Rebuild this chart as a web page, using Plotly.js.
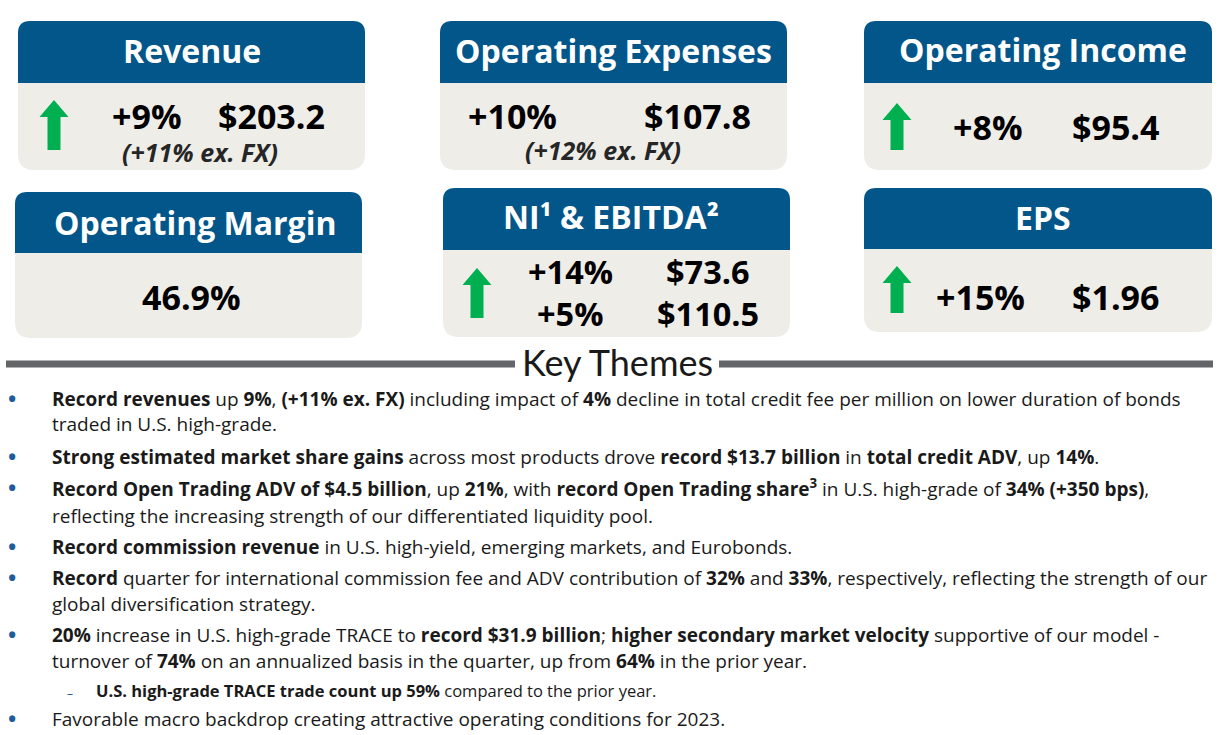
<!DOCTYPE html>
<html>
<head>
<meta charset="utf-8">
<script src="https://cdn.plot.ly/plotly-3.0.1.min.js"></script>
<style>html,body{margin:0;padding:0;background:#fff;}#chart{width:1225px;height:735px;}</style>
</head>
<body>
<div id="chart"></div>
<script>
// ---------- data ----------
const cardTitles = ['Revenue', 'Operating Expenses', 'Operating Income', 'Operating Margin', 'NI\u00B9 & EBITDA\u00B2', 'EPS'];
const cardChanges = [['+9%'], ['+10%'], ['+8%'], [], ['+14%', '+5%'], ['+15%']];
const cardValues = [['$203.2'], ['$107.8'], ['$95.4'], ['46.9%'], ['$73.6', '$110.5'], ['$1.96']];
const cardNotes = ['(+11% ex. FX)', '(+12% ex. FX)', '', '', '', ''];
const cardArrow = [true, false, true, false, true, true];

const sectionTitle = 'Key Themes';
const bullets = [
  ['<b>Record revenues</b> up <b>9%</b>, <b>(+11% ex. FX)</b> including impact of <b>4%</b> decline in total credit fee per million on lower duration of bonds',
   'traded in U.S. high-grade.'],
  ['<b>Strong estimated market share gains</b> across most products drove <b>record $13.7 billion</b> in <b>total credit ADV</b>, up <b>14%</b>.'],
  ['<b>Record Open Trading ADV of $4.5 billion</b>, up <b>21%</b>, with <b>record Open Trading share<sup>3</sup></b> in U.S. high-grade of <b>34% (+350 bps)</b>,',
   'reflecting the increasing strength of our differentiated liquidity pool.'],
  ['<b>Record commission revenue</b> in U.S. high-yield, emerging markets, and Eurobonds.'],
  ['<b>Record</b> quarter for international commission fee and ADV contribution of <b>32%</b> and <b>33%</b>, respectively, reflecting the strength of our',
   'global diversification strategy.'],
  ['<b>20%</b> increase in U.S. high-grade TRACE to <b>record $31.9 billion</b>; <b>higher secondary market velocity</b> supportive of our model -',
   'turnover of <b>74%</b> on an annualized basis in the quarter, up from <b>64%</b> in the prior year.'],
  ['<b>U.S. high-grade TRACE trade count up 59%</b> compared to the prior year.'],
  ['Favorable macro backdrop creating attractive operating conditions for 2023.']
];
const bulletLevel = [0, 0, 0, 0, 0, 0, 1, 0];

// ---------- layout geometry / styles ----------
const BLUE = '#02568A', GRAY = '#EEEDE8', GREEN = '#00B050', TXT = '#1A1A1A';
const boxes = [
  {x0: 18, x1: 365, y0: 21, yh: 83, y1: 170},
  {x0: 440, x1: 787, y0: 21, yh: 83, y1: 170},
  {x0: 864, x1: 1212, y0: 21, yh: 83, y1: 170},
  {x0: 15, x1: 362, y0: 192, yh: 253, y1: 338},
  {x0: 443, x1: 790, y0: 188, yh: 250, y1: 337},
  {x0: 864, x1: 1212, y0: 188, yh: 249, y1: 332}
];
const place = [
  {tx: 0, ty: -2, cx: 147, vx: 271, ys: [116], fs: 34, note: [200, 152], arrow: [54, 100, 150]},
  {tx: 0, ty: -2, cx: 512, vx: 697, ys: [116], fs: 34, note: [603, 150], arrow: null},
  {tx: 5, ty: -3, cx: 988, vx: 1115, ys: [127], fs: 34, note: null, arrow: [897, 103, 150]},
  {tx: 6, ty: 0, cx: 0, vx: 191, ys: [297], fs: 34, note: null, arrow: null},
  {tx: -6, ty: -3, cx: 570, vx: 708, ys: [271, 313], fs: 32.5, note: null, arrow: [477, 268, 318]},
  {tx: 5, ty: -1, cx: 980, vx: 1115, ys: [297], fs: 34, note: null, arrow: [897, 266, 313]}
];
const lineRows = [[399, 424], [457], [488, 516], [547], [578, 604], [635, 661], [690], [719]];

function roundTop(x0, x1, y0, y1, r) {
  return `M${x0},${y1} L${x0},${y0 + r} Q${x0},${y0} ${x0 + r},${y0} L${x1 - r},${y0} Q${x1},${y0} ${x1},${y0 + r} L${x1},${y1} Z`;
}
function roundBottom(x0, x1, y0, y1, r) {
  return `M${x0},${y0} L${x1},${y0} L${x1},${y1 - r} Q${x1},${y1} ${x1 - r},${y1} L${x0 + r},${y1} Q${x0},${y1} ${x0},${y1 - r} Z`;
}
function arrowPath(cx, ty, by) {
  const hw = 14.5, sw = 6.5, hh = 17;
  return `M${cx},${ty} L${cx + hw},${ty + hh} L${cx + sw},${ty + hh} L${cx + sw},${by} L${cx - sw},${by} L${cx - sw},${ty + hh} L${cx - hw},${ty + hh} Z`;
}

const shapes = [];
const annotations = [];
const HEAD = 'Open Sans, Noto Sans, sans-serif';
const BODY = 'Open Sans, Noto Sans, sans-serif';

boxes.forEach((b, i) => {
  const p = place[i];
  shapes.push({type: 'path', xref: 'x', yref: 'y', path: roundTop(b.x0, b.x1, b.y0, b.yh, 12), fillcolor: BLUE, line: {width: 0}, layer: 'below'});
  shapes.push({type: 'path', xref: 'x', yref: 'y', path: roundBottom(b.x0, b.x1, b.yh, b.y1, 16), fillcolor: GRAY, line: {width: 0}, layer: 'below'});
  annotations.push({x: (b.x0 + b.x1) / 2 + p.tx, y: (b.y0 + b.yh) / 2 + p.ty, xref: 'x', yref: 'y', text: '<b>' + cardTitles[i] + '</b>',
    showarrow: false, xanchor: 'center', yanchor: 'middle', font: {family: HEAD, size: 32, color: '#FFFFFF'}});
  p.ys.forEach((y, k) => {
    if (cardChanges[i][k] !== undefined) {
      annotations.push({x: p.cx, y: y, xref: 'x', yref: 'y', text: '<b>' + cardChanges[i][k] + '</b>', showarrow: false,
        xanchor: 'center', yanchor: 'middle', font: {family: HEAD, size: p.fs, color: '#000'}});
    }
    annotations.push({x: p.vx, y: y, xref: 'x', yref: 'y', text: '<b>' + cardValues[i][k] + '</b>', showarrow: false,
      xanchor: 'center', yanchor: 'middle', font: {family: HEAD, size: p.fs, color: '#000'}});
  });
  if (cardNotes[i]) {
    annotations.push({x: p.note[0], y: p.note[1], xref: 'x', yref: 'y', text: '<b><i>' + cardNotes[i] + '</i></b>', showarrow: false,
      xanchor: 'center', yanchor: 'middle', font: {family: HEAD, size: 25, color: '#262626'}});
  }
  if (cardArrow[i] && p.arrow) {
    shapes.push({type: 'path', xref: 'x', yref: 'y', path: arrowPath(p.arrow[0], p.arrow[1], p.arrow[2]), fillcolor: GREEN, line: {width: 0}});
  }
});

// Key Themes divider
shapes.push({type: 'line', xref: 'x', yref: 'y', x0: 6, x1: 515, y0: 364, y1: 364, line: {color: '#646569', width: 7}});
shapes.push({type: 'line', xref: 'x', yref: 'y', x0: 719, x1: 1213, y0: 364, y1: 364, line: {color: '#646569', width: 7}});
annotations.push({x: 617, y: 362, xref: 'x', yref: 'y', text: sectionTitle, showarrow: false, xanchor: 'center', yanchor: 'middle',
  font: {family: 'Lato, Open Sans, sans-serif', size: 36, color: TXT}});

bullets.forEach((lines, i) => {
  const rows = lineRows[i];
  const lvl = bulletLevel[i];
  annotations.push({x: lvl ? 70 : 12, y: rows[0] + (lvl ? 3 : -1), xref: 'x', yref: 'y', text: lvl ? '\u2013' : '<b>\u2022</b>', showarrow: false,
    xanchor: 'center', yanchor: 'middle', font: {family: BODY, size: lvl ? 12 : 22, color: '#1F5C99'}});
  lines.forEach((t, k) => {
    annotations.push({x: lvl ? 94 : 50, y: rows[k], xref: 'x', yref: 'y', text: t, showarrow: false, xanchor: 'left', yanchor: 'middle',
      font: {family: BODY, size: lvl ? 16.5 : 19, color: TXT}});
  });
});

const layout = {
  width: 1225, height: 735,
  margin: {l: 0, r: 0, t: 0, b: 0},
  paper_bgcolor: '#FFFFFF', plot_bgcolor: '#FFFFFF',
  xaxis: {range: [0, 1225], visible: false, fixedrange: true},
  yaxis: {range: [735, 0], visible: false, fixedrange: true},
  shapes: shapes, annotations: annotations, showlegend: false
};
Plotly.newPlot('chart', [{x: [], y: [], type: 'scatter'}], layout, {displayModeBar: false, staticPlot: true});
</script>
</body>
</html>
